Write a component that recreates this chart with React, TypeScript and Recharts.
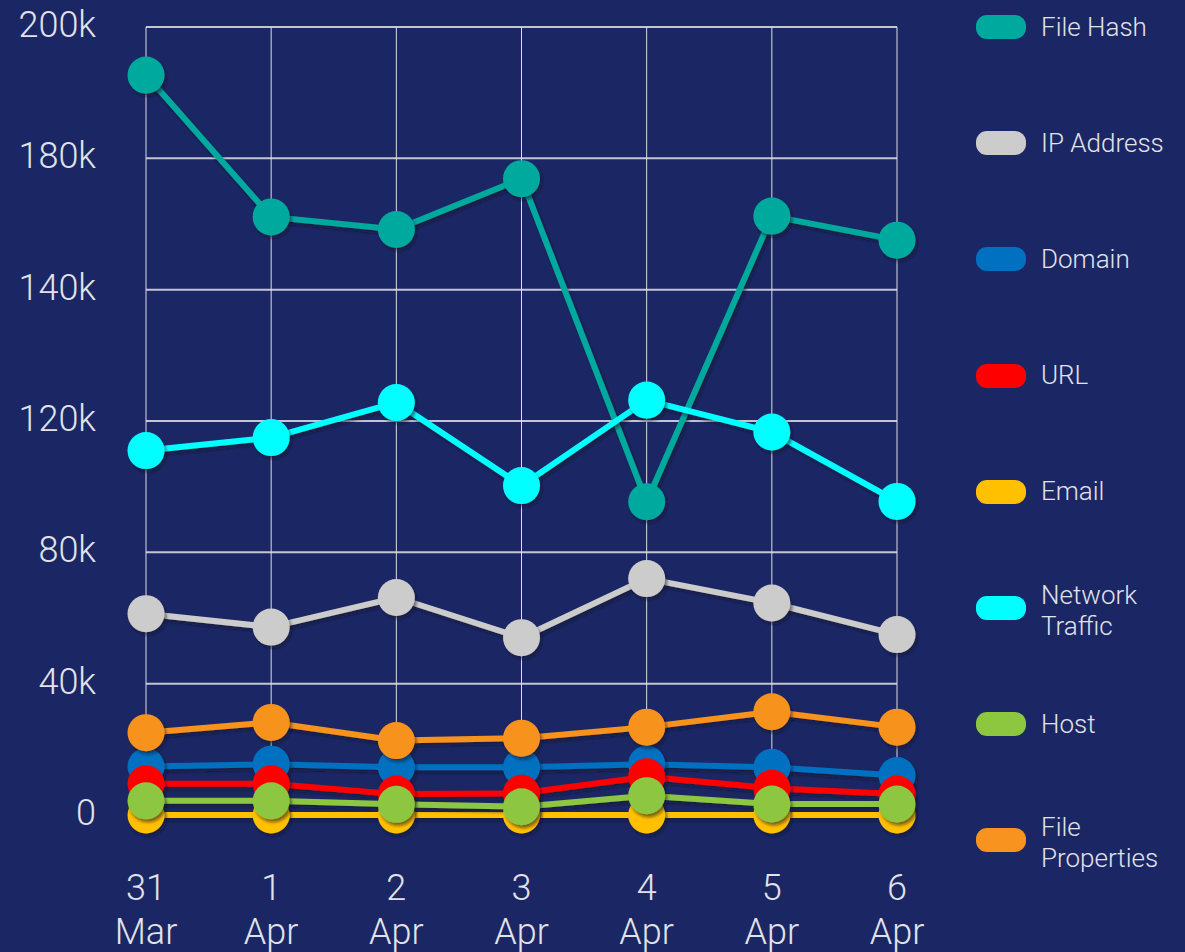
import React from 'react';
import { LineChart, Line, XAxis, YAxis, CartesianGrid } from 'recharts';

const categories = ['31 Mar', '1 Apr', '2 Apr', '3 Apr', '4 Apr', '5 Apr', '6 Apr'];

const yTickValues = [0, 33333.33, 66666.67, 100000, 133333.33, 166666.67, 200000];
const yTickLabels = ['0', '40k', '80k', '120k', '140k', '180k', '200k'];

const fileHash = [187800, 151800, 148600, 161500, 79500, 152000, 145900];
const ipAddress = [51100, 47700, 55200, 45000, 60000, 53800, 45800];
const domain = [12300, 12900, 12100, 12100, 12900, 12100, 10000];
const url = [7900, 7900, 5300, 5500, 9700, 6800, 5300];
const email = [0, 0, 0, 0, 0, 0, 0];
const networkTraffic = [92500, 95800, 104700, 83600, 105300, 97200, 79600];
const host = [3600, 3600, 2700, 2100, 4900, 2800, 2800];
const fileProperties = [20900, 23500, 18900, 19500, 22300, 26200, 22300];

const seriesKeys = ['fileHash', 'ipAddress', 'domain', 'url', 'email', 'networkTraffic', 'host', 'fileProperties'];
const seriesNames = ['File Hash', 'IP Address', 'Domain', 'URL', 'Email', 'Network Traffic', 'Host', 'File Properties'];
const seriesColors = ['#00a99d', '#cccccc', '#0070c0', '#ff0000', '#ffc000', '#00ffff', '#8dc63f', '#f7931e'];
const seriesValues = [fileHash, ipAddress, domain, url, email, networkTraffic, host, fileProperties];

const data = categories.map((c, i) => {
  const row: Record<string, string | number> = { date: c };
  seriesKeys.forEach((k, s) => {
    row[k] = seriesValues[s][i];
  });
  return row;
});

const BG = '#1b2764';
const TEXT = '#e2e3ea';
const FONT = 'Roboto, "Open Sans", sans-serif';

const XTick = (props: any) => {
  const { x, y, payload } = props;
  const parts = String(payload.value).split(' ');
  return (
    <g>
      <text x={x} y={y + 85} textAnchor="middle" fill={TEXT} fontSize={36} fontFamily={FONT} fontWeight={300}>
        {parts[0]}
      </text>
      <text x={x} y={y + 129} textAnchor="middle" fill={TEXT} fontSize={36} fontFamily={FONT} fontWeight={300}>
        {parts[1]}
      </text>
    </g>
  );
};

const YTick = (props: any) => {
  const { x, y, index } = props;
  return (
    <text x={x} y={y + 10} textAnchor="end" fill={TEXT} fontSize={36} fontFamily={FONT} fontWeight={300}>
      {yTickLabels[index]}
    </text>
  );
};

const makeDot = (color: string) => (props: any) => {
  const { cx, cy, index } = props;
  if (cx == null || cy == null) return <g key={index} />;
  return <circle key={index} cx={cx} cy={cy} r={18.5} fill={color} filter="url(#sh)" />;
};

export default function App() {
  return (
    <div style={{ position: 'absolute', left: 0, top: 0, width: 1185, height: 952, background: BG, overflow: 'hidden' }}>
      <LineChart width={1185} height={952} data={data} margin={{ top: 27, right: 288, bottom: 0, left: 0 }}>
        <defs>
          <filter id="sh" filterUnits="userSpaceOnUse" x="0" y="0" width="1185" height="952">
            <feDropShadow dx="2" dy="3" stdDeviation="1.5" floodColor="#070b2a" floodOpacity="0.55" />
          </filter>
        </defs>
        <CartesianGrid vertical={false} stroke="#c4c5d3" strokeWidth={2} />
        <CartesianGrid horizontal={false} stroke="#dddde6" strokeWidth={1} />
        <XAxis
          dataKey="date"
          height={137}
          axisLine={false}
          tickLine={false}
          tickSize={0}
          tickMargin={0}
          interval={0}
          tick={<XTick />}
        />
        <YAxis
          width={146}
          domain={[0, 200000]}
          ticks={yTickValues}
          interval={0}
          axisLine={false}
          tickLine={false}
          tickSize={0}
          tickMargin={50}
          tick={<YTick />}
        />
        {seriesKeys.map((k, s) => (
          <Line
            key={k}
            type="linear"
            dataKey={k}
            name={seriesNames[s]}
            stroke={seriesColors[s]}
            strokeWidth={6}
            dot={makeDot(seriesColors[s])}
            activeDot={false}
            filter="url(#sh)"
            isAnimationActive={false}
          />
        ))}
      </LineChart>
      {seriesNames.map((n, i) => (
        <div
          key={n}
          style={{
            position: 'absolute',
            left: 976,
            top: 27 + i * 116.2 - 40,
            height: 80,
            display: 'flex',
            alignItems: 'center',
          }}
        >
          <div style={{ width: 50, height: 24, borderRadius: 11, background: seriesColors[i], flex: 'none' }} />
          <div
            style={{
              marginLeft: 15,
              width: 140,
              fontSize: 26,
              lineHeight: '31px',
              paddingTop: n.indexOf(' ') > 0 && n.length > 12 ? 6 : 0,
              color: TEXT,
              fontFamily: FONT,
              fontWeight: 300,
            }}
          >
            {n}
          </div>
        </div>
      ))}
    </div>
  );
}
